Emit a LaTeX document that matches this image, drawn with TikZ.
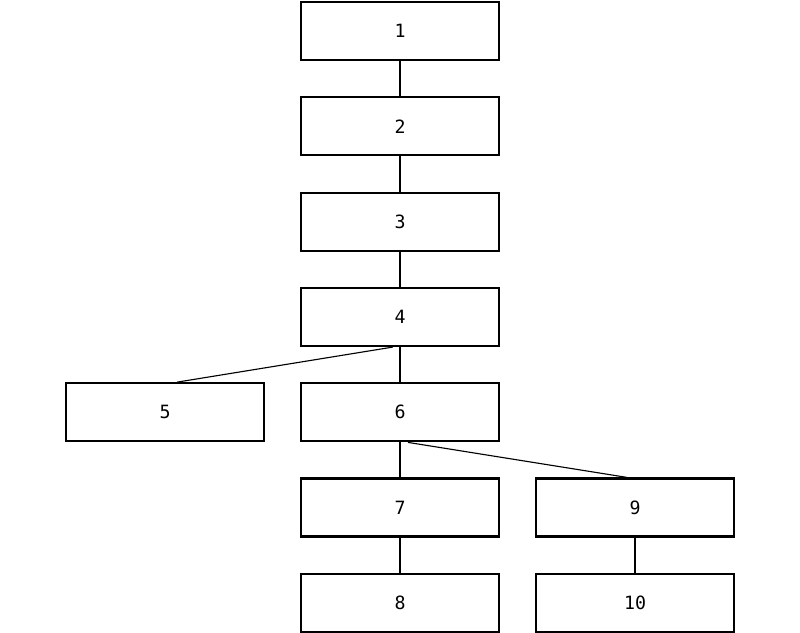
\documentclass[tikz,border=0pt]{standalone}
\usepackage{fontspec}
\setmainfont{DejaVu Sans Mono}
\usetikzlibrary{positioning}

\begin{document}
\begin{tikzpicture}[
		auto,
		node distance=2.383cm,
		font=\fontsize{13}{15}\selectfont,
		block/.style={
			rectangle,
			draw=black,
			line width=1.6pt,
			text centered,
			minimum width=4.95cm,
			minimum height=1.45cm,
			fill=white
		},
		link/.style={
			line width=0.8pt
		}
		]
		\useasboundingbox (0,0) rectangle (20cm,-15.825cm);
		% the chain down the middle
		\node [block] (b1) at (10cm,-0.775cm) {1};
		\node [block, below of=b1] (b2) {2};
		\node [block, below of=b2] (b3) {3};
		\node [block, below of=b3] (b4) {4};
		\node [block, below of=b4] (b6) {6};
		\node [block, below of=b6] (b7) {7};
		\node [block, below of=b7] (b8) {8};
		
		% side blocks
		\node [block, below of=b4, xshift=-5.875cm] (b5) {5};
		\node [block, below of=b6, xshift=5.875cm] (b9) {9};
		\node [block, below of=b9] (b10) {10};
		
		\draw [link] (b1) -- (b2);
		\draw [link] (b2) -- (b3);
		\draw [link] (b3) -- (b4);
		\draw [link] (b4) -- (b6);
		\draw [link] ([xshift=-0.18cm]b4.south) -- ([xshift=0.3cm]b5.north);
		\draw [link] (b6) -- (b7);
		\draw [link] ([xshift=0.2cm]b6.south) -- ([xshift=-0.19cm]b9.north);
		\draw [link] (b7) -- (b8);
		\draw [link] (b9) -- (b10);
		
\end{tikzpicture}
\end{document}
